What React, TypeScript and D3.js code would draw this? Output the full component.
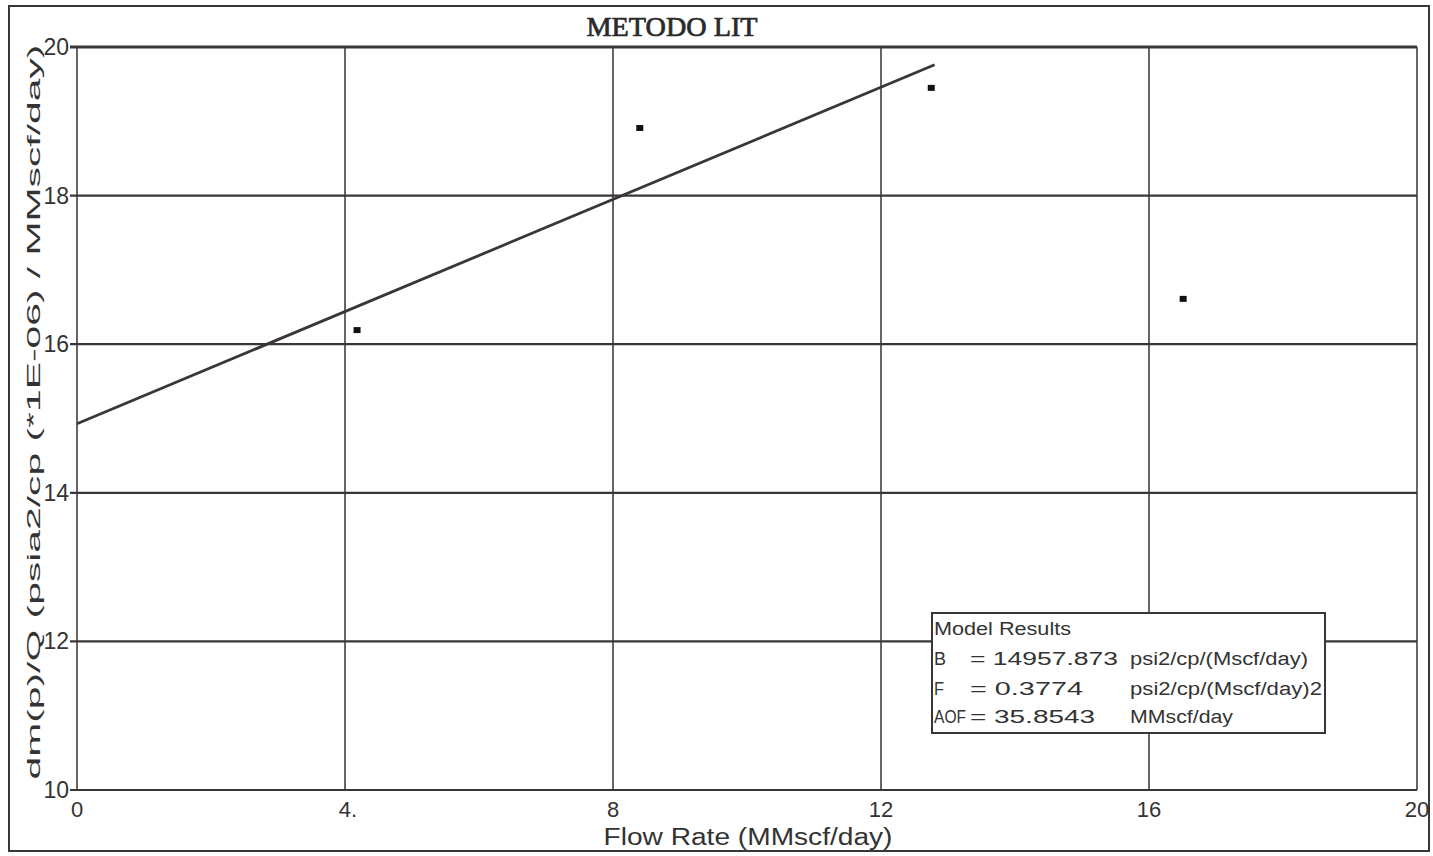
import React from "react";
import * as d3 from "d3";

const xTicks = [0, 4, 8, 12, 16, 20];
const yTicks = [10, 12, 14, 16, 18, 20];
const xTickLabels = ["0", "4.", "8", "12", "16", "20"];
const flowRate = [4.18, 8.4, 12.75, 16.51];
const dmpQ = [16.19, 18.91, 19.45, 16.61];
const fitX = [0, 12.8];
const fitY = [14.93, 19.76];
const legendLabels = ["B", "F", "AOF"];
const legendValues = ["= 14957.873", "= 0.3774", "= 35.8543"];
const legendUnits = ["psi2/cp/(Mscf/day)", "psi2/cp/(Mscf/day)2", "MMscf/day"];
const labelLens = [12, 10, 32];
const valueLens = [148, 113, 125];
const unitLens = [178, 192, 103];

const W = 1433;
const H = 856;
const plot = { left: 77, top: 47, right: 1417, bottom: 790 };

export default function App() {
  const x = d3.scaleLinear().domain([0, 20]).range([plot.left, plot.right]);
  const y = d3.scaleLinear().domain([10, 20]).range([plot.bottom, plot.top]);
  const line = d3
    .line<number>()
    .x((_, i) => x(fitX[i]))
    .y((d) => y(d));
  const ink = "#3a3538";
  const font = "Arial, 'Liberation Sans', sans-serif";
  const legendBase = [665, 694.5, 723];

  return (
    <svg
      width={W}
      height={H}
      style={{ position: "absolute", left: 0, top: 0, background: "#fff" }}
    >
      <rect x={0} y={0} width={W} height={H} fill="#fff" />
      {/* outer frame */}
      <rect x={9} y={6} width={1420} height={845} fill="none" stroke={ink} strokeWidth={2} />
      {/* title */}
      <text
        x={672}
        y={36}
        textAnchor="middle"
        fontFamily="'Liberation Serif', 'DejaVu Serif', serif"
        fontSize={27}
        stroke="#2a2a2a"
        strokeWidth={0.7}
        textLength={171}
        lengthAdjust="spacingAndGlyphs"
        fill="#2a2a2a"
      >
        METODO LIT
      </text>
      {/* vertical grid */}
      {xTicks.map((t) => (
        <line
          key={"vx" + t}
          x1={x(t)}
          x2={x(t)}
          y1={plot.top}
          y2={plot.bottom}
          stroke="#555"
          strokeWidth={1.8}
        />
      ))}
      {/* horizontal grid */}
      {yTicks.map((t) => (
        <line
          key={"hy" + t}
          x1={plot.left - 7}
          x2={plot.right}
          y1={y(t)}
          y2={y(t)}
          stroke={ink}
          strokeWidth={t === 20 ? 3 : 2.2}
        />
      ))}
      {/* y tick labels */}
      {yTicks.map((t) => (
        <text
          key={"yl" + t}
          x={69}
          y={y(t) + 8}
          textAnchor="end"
          fontFamily={font}
          fontSize={23}
          fill="#333"
        >
          {t}
        </text>
      ))}
      {/* x tick labels */}
      {xTicks.map((t, i) => (
        <text
          key={"xl" + t}
          x={x(t) + (i === 1 ? 3 : 0)}
          y={817}
          textAnchor="middle"
          fontFamily={font}
          fontSize={22}
          fill="#333"
        >
          {xTickLabels[i]}
        </text>
      ))}
      {/* axis titles */}
      <text
        x={748}
        y={845}
        textAnchor="middle"
        fontFamily={font}
        fontSize={23}
        textLength={289}
        lengthAdjust="spacingAndGlyphs"
        fill="#333"
      >
        Flow Rate (MMscf/day)
      </text>
      <text
        transform={`translate(40, 412) rotate(-90)`}
        textAnchor="middle"
        fontFamily={font}
        fontSize={18}
        textLength={735}
        lengthAdjust="spacingAndGlyphs"
        fill="#333"
      >
        dm(p)/Q (psia2/cp (*1E-06) / MMscf/day)
      </text>
      {/* fit line */}
      <path d={line(fitY) || ""} fill="none" stroke={ink} strokeWidth={2.8} />
      {/* data points */}
      {flowRate.map((q, i) => (
        <rect
          key={"p" + i}
          x={x(q) - 3.5}
          y={y(dmpQ[i]) - 3}
          width={7}
          height={6}
          fill="#111"
        />
      ))}
      {/* legend */}
      <g>
        <rect x={932} y={613} width={393} height={120} fill="#fff" stroke={ink} strokeWidth={2} />
        <text
          x={934}
          y={635}
          fontFamily={font}
          fontSize={18}
          textLength={137}
          lengthAdjust="spacingAndGlyphs"
          fill="#333"
        >
          Model Results
        </text>
        {legendLabels.map((l, i) => (
          <g key={"lg" + l}>
            <text
              x={934}
              y={legendBase[i]}
              fontFamily={font}
              fontSize={18}
              textLength={labelLens[i]}
              lengthAdjust="spacingAndGlyphs"
              fill="#333"
            >
              {l}
            </text>
            <text
              x={970}
              y={legendBase[i]}
              fontFamily={font}
              fontSize={18}
              textLength={valueLens[i]}
              lengthAdjust="spacingAndGlyphs"
              fill="#333"
            >
              {legendValues[i]}
            </text>
            <text
              x={1130}
              y={legendBase[i]}
              fontFamily={font}
              fontSize={18}
              textLength={unitLens[i]}
              lengthAdjust="spacingAndGlyphs"
              fill="#333"
            >
              {legendUnits[i]}
            </text>
          </g>
        ))}
      </g>
    </svg>
  );
}
